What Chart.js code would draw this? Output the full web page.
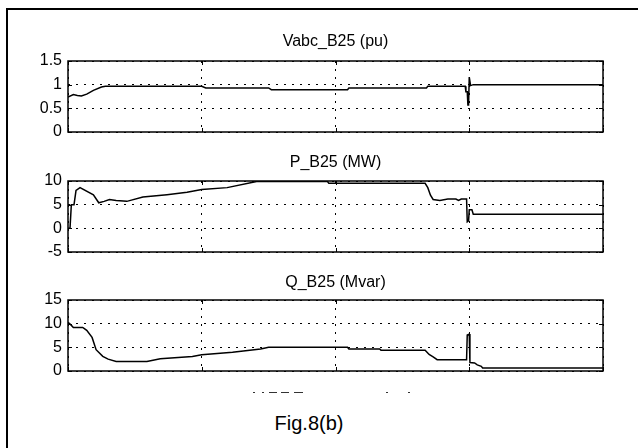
<!DOCTYPE html>
<html>
<head>
<meta charset="utf-8">
<script src="https://cdn.jsdelivr.net/npm/chart.js@4.4.0/dist/chart.umd.min.js"></script>
<style>
  body { margin: 0; background: #fff; width: 638px; height: 448px; overflow: hidden; position: relative; font-family: "Liberation Sans", Arial, sans-serif; }
  #frame { position: absolute; left: 6px; top: 8px; right: -4px; bottom: -4px; border-left: 2px solid #000; border-top: 2px solid #000; }
  canvas { position: absolute; left: 0; }
  #caption { position: absolute; left: 209px; width: 200px; top: 412px; text-align: center; font-size: 20px; color: #000; }
  .stub { position: absolute; top: 392px; height: 1px; background: #333; }
</style>
</head>
<body>
<div id="frame"></div>
<canvas id="cV" width="638" height="117" style="top:33px"></canvas>
<canvas id="cP" width="638" height="116" style="top:154px"></canvas>
<canvas id="cQ" width="638" height="115" style="top:274px"></canvas>
<div id="caption">Fig.8(b)</div>

<script>
// Time axis runs over 4 grid divisions (no tick labels shown)
const xRange = [0, 4];

// Vabc_B25 (pu)
const tV = [0, 0.04, 0.07, 0.1, 0.14, 0.19, 0.25, 0.28, 1.0, 1.03, 1.5, 1.52, 2.09, 2.1, 2.68, 2.69, 2.97, 2.975, 2.985, 2.99, 2.995, 3.0, 3.01, 3.03, 4.0];
const vV = [0.74, 0.79, 0.77, 0.76, 0.8, 0.88, 0.95, 0.965, 0.965, 0.93, 0.93, 0.895, 0.895, 0.93, 0.93, 0.965, 0.965, 0.85, 0.85, 0.57, 0.57, 1.16, 0.98, 1.0, 1.0];

// P_B25 (MW)
const tP = [0, 0.015, 0.025, 0.045, 0.06, 0.09, 0.19, 0.23, 0.27, 0.31, 0.36, 0.44, 0.56, 0.74, 0.89, 1.0, 1.19, 1.41, 1.94, 1.95, 2.67, 2.69, 2.71, 2.73, 2.78, 2.84, 2.9, 2.92, 2.94, 2.98, 2.985, 2.995, 3.0, 3.02, 3.03, 4.0];
const vP = [0, 0, 5, 5, 8, 8.6, 7.1, 5.4, 5.7, 6.1, 5.9, 5.7, 6.6, 7.1, 7.6, 8.2, 8.6, 9.9, 9.9, 9.5, 9.5, 8.6, 7.0, 6.1, 5.9, 6.2, 6.2, 5.9, 6.2, 6.2, 1.4, 1.6, 3.9, 3.9, 3.0, 3.0];

// Q_B25 (Mvar)
const tQ = [0, 0.02, 0.04, 0.11, 0.14, 0.18, 0.21, 0.26, 0.3, 0.36, 0.59, 0.69, 0.93, 1.0, 1.23, 1.44, 1.5, 2.09, 2.1, 2.33, 2.34, 2.67, 2.7, 2.73, 2.76, 2.98, 2.985, 3.0, 3.005, 3.04, 3.06, 3.09, 3.1, 4.0];
const vQ = [10.3, 9.8, 9.2, 9.2, 8.6, 7.1, 4.5, 3.1, 2.5, 2.0, 2.0, 2.6, 3.05, 3.45, 3.95, 4.65, 5.0, 5.0, 4.65, 4.65, 4.4, 4.4, 3.5, 3.0, 2.4, 2.4, 7.6, 7.8, 1.8, 1.7, 1.3, 1.0, 0.65, 0.65];

const titles = ["Vabc_B25 (pu)", "P_B25 (MW)", "Q_B25 (Mvar)"];
const yLimits = [[0, 1.5], [-5, 10], [0, 15]];
const yStep = [0.5, 5, 5];

const fontFam = "'Liberation Sans', Arial, sans-serif";

// MATLAB-like box with small inward ticks on every side
const boxTicks = {
  id: "boxTicks",
  afterDraw(chart) {
    const { ctx, chartArea: a, scales: { x, y } } = chart;
    const len = 4;
    ctx.save();
    ctx.strokeStyle = "#000";
    ctx.lineWidth = 1;
    ctx.beginPath();
    x.ticks.forEach(t => {
      const px = Math.round(x.getPixelForValue(t.value)) + 0.5;
      ctx.moveTo(px, a.top); ctx.lineTo(px, a.top + len);
      ctx.moveTo(px, a.bottom); ctx.lineTo(px, a.bottom - len);
    });
    y.ticks.forEach(t => {
      const py = Math.round(y.getPixelForValue(t.value)) + 0.5;
      ctx.moveTo(a.left, py); ctx.lineTo(a.left + len, py);
      ctx.moveTo(a.right, py); ctx.lineTo(a.right - len, py);
    });
    ctx.stroke();
    ctx.lineWidth = 1.5;
    ctx.strokeRect(Math.round(a.left), Math.round(a.top), Math.round(a.width), Math.round(a.height));
    ctx.restore();
  }
};

function makePlot(id, times, values, i, titleGap) {
  const pts = times.map((t, k) => ({ x: t, y: values[k] }));
  new Chart(document.getElementById(id), {
    type: "line",
    data: {
      datasets: [{
        data: pts,
        borderColor: "#000",
        borderWidth: 1.5,
        pointRadius: 0,
        tension: 0,
        fill: false
      }]
    },
    options: {
      responsive: false,
      animation: false,
      events: [],
      layout: { padding: { left: 0, right: 35, top: 0, bottom: 18 } },
      plugins: {
        legend: { display: false },
        tooltip: { enabled: false },
        title: {
          display: true,
          text: titles[i],
          fullSize: false,
          color: "#000",
          font: { family: fontFam, size: 16, weight: "normal", lineHeight: 1.125 },
          padding: { top: 0, bottom: titleGap }
        }
      },
      scales: {
        x: {
          type: "linear",
          min: xRange[0],
          max: xRange[1],
          ticks: { display: false, stepSize: 1 },
          grid: { color: "#000", lineWidth: 1, drawTicks: false },
          border: { display: false, dash: [2, 6] },
          afterFit: s => { s.height = 0; }
        },
        y: {
          min: yLimits[i][0],
          max: yLimits[i][1],
          ticks: {
            stepSize: yStep[i],
            padding: 6,
            color: "#000",
            font: { family: fontFam, size: 16 },
            callback: v => String(v)
          },
          grid: { color: "#000", lineWidth: 1, drawTicks: false },
          border: { display: false, dash: [2, 6] },
          afterFit: s => { s.width = 68; }
        }
      }
    },
    plugins: [boxTicks]
  });
}

makePlot("cV", tV, vV, 0, 10);
makePlot("cP", tP, vP, 1, 9);
makePlot("cQ", tQ, vQ, 2, 8);

// remnants of a clipped axis label under the last plot
[[253, 2], [262, 2], [269, 8], [281, 8], [294, 9], [386, 2], [408, 2]].forEach(([left, w]) => {
  const d = document.createElement("div");
  d.className = "stub";
  d.style.left = left + "px";
  d.style.width = w + "px";
  document.body.appendChild(d);
});
</script>
</body>
</html>
